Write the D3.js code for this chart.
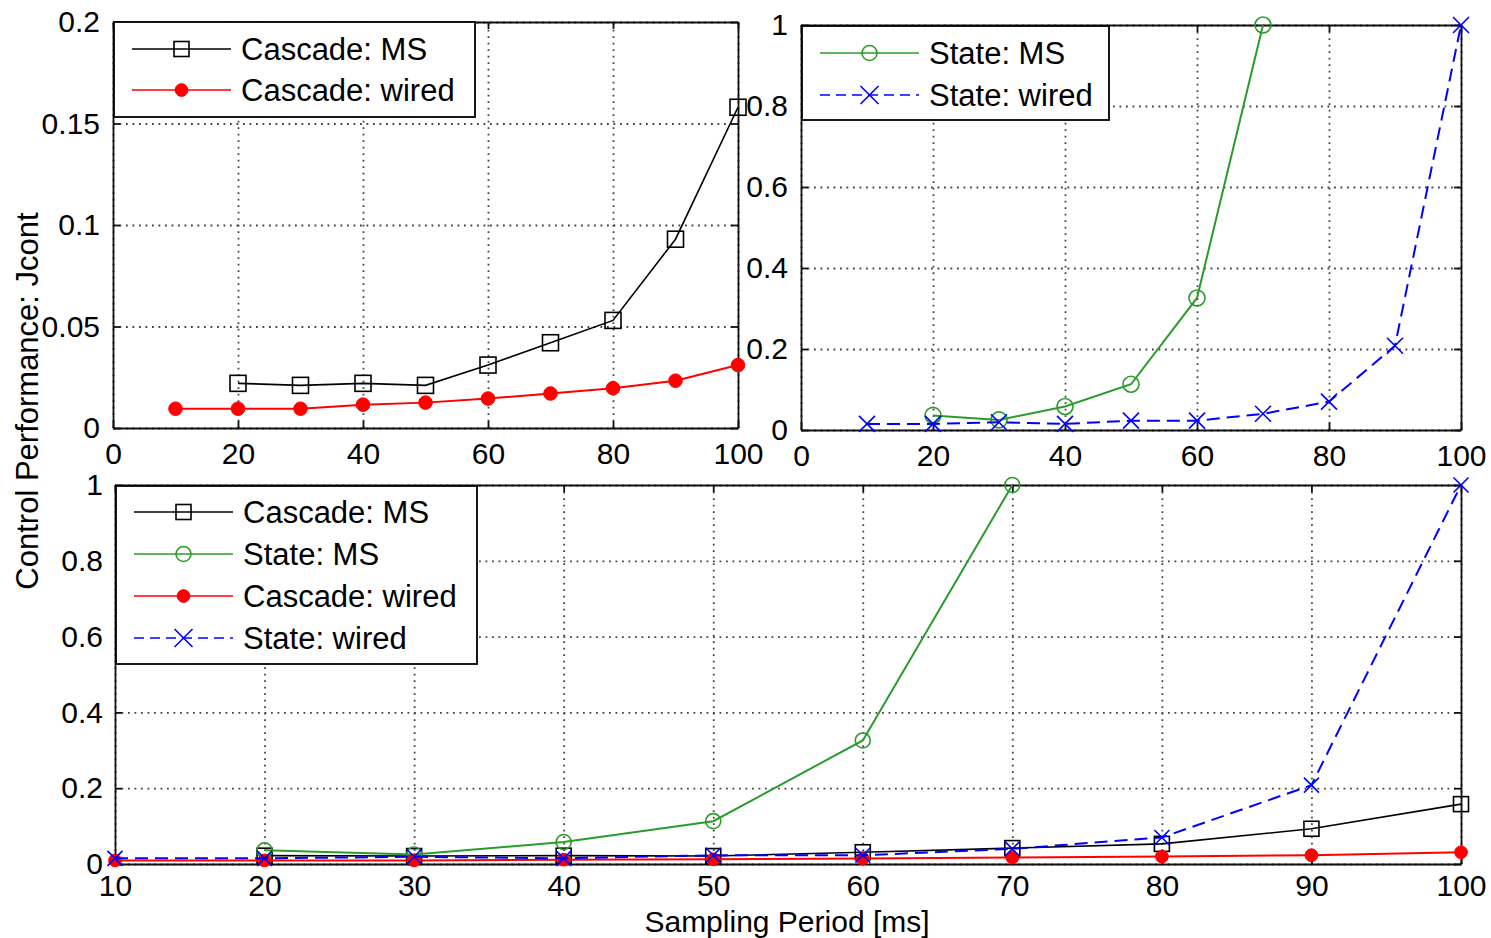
<!DOCTYPE html>
<html>
<head>
<meta charset="utf-8">
<script src="https://cdn.jsdelivr.net/npm/d3@7"></script>
<style>
  body { margin: 0; background: #fff; }
  text { font-family: "Liberation Sans", Arial, sans-serif; fill: #000; }
</style>
</head>
<body>
<svg width="1491" height="938"></svg>
<script>
// values
var periods = [10, 20, 30, 40, 50, 60, 70, 80, 90, 100];
var cascadeMS = [null, 0.022, 0.021, 0.022, 0.021, 0.031, 0.042, 0.053, 0.093, 0.158];
var cascadeWired = [0.0095, 0.0095, 0.0095, 0.0115, 0.0125, 0.0145, 0.017, 0.0196, 0.0233, 0.031];
var stateMS = [null, 0.036, 0.025, 0.058, 0.113, 0.326, 1.0, null, null, null];
var stateWired = [0.015, 0.015, 0.019, 0.015, 0.023, 0.023, 0.04, 0.07, 0.208, 1.0];

var xTicksTop = [0, 20, 40, 60, 80, 100];
var xTicksBottom = [10, 20, 30, 40, 50, 60, 70, 80, 90, 100];
var yTicksCascade = [0, 0.05, 0.1, 0.15, 0.2];
var yTicksState = [0, 0.2, 0.4, 0.6, 0.8, 1];

var seriesStyle = {
  cascadeMS:    { label: "Cascade: MS",    values: cascadeMS,    color: "#000",    marker: "square", dash: null,   lw: 1.6 },
  stateMS:      { label: "State: MS",      values: stateMS,      color: "#2b9b2b", marker: "circle", dash: null,   lw: 2 },
  cascadeWired: { label: "Cascade: wired", values: cascadeWired, color: "#ff0000", marker: "dot",    dash: null,   lw: 2 },
  stateWired:   { label: "State: wired",   values: stateWired,   color: "#0000ff", marker: "x",      dash: "13,7", lw: 2 }
};

var svg = d3.select("svg");

function drawMarker(g, type, cx, cy, s, color) {
  if (type == "square") {
    g.append("rect").attr("x", cx - s).attr("y", cy - s).attr("width", 2 * s).attr("height", 2 * s)
      .attr("fill", "none").attr("stroke", color).attr("stroke-width", 1.6);
  } else if (type == "circle") {
    g.append("circle").attr("cx", cx).attr("cy", cy).attr("r", s)
      .attr("fill", "none").attr("stroke", color).attr("stroke-width", 1.6);
  } else if (type == "dot") {
    g.append("circle").attr("cx", cx).attr("cy", cy).attr("r", s * 0.85)
      .attr("fill", color).attr("stroke", color).attr("stroke-width", 1);
  } else {
    g.append("path").attr("d", "M" + (cx - s) + "," + (cy - s) + "L" + (cx + s) + "," + (cy + s) +
        "M" + (cx - s) + "," + (cy + s) + "L" + (cx + s) + "," + (cy - s))
      .attr("fill", "none").attr("stroke", color).attr("stroke-width", 1.6);
  }
}

function panel(p) {
  var x = d3.scaleLinear().domain(p.xDomain).range([p.left, p.right]);
  var y = d3.scaleLinear().domain(p.yDomain).range([p.bottom, p.top]);
  var w = p.right - p.left, h = p.bottom - p.top;
  var g = svg.append("g");

  // dotted grid
  g.append("g").attr("transform", "translate(0," + p.bottom + ")")
    .call(d3.axisBottom(x).tickValues(p.xTicks).tickSize(-h).tickFormat(""))
    .call(function(a) { a.select(".domain").remove(); })
    .selectAll("line").attr("stroke", "#444").attr("stroke-width", 1.8).attr("stroke-dasharray", "1.8,4.7");
  g.append("g").attr("transform", "translate(" + p.left + ",0)")
    .call(d3.axisLeft(y).tickValues(p.yTicks).tickSize(-w).tickFormat(""))
    .call(function(a) { a.select(".domain").remove(); })
    .selectAll("line").attr("stroke", "#444").attr("stroke-width", 1.8).attr("stroke-dasharray", "1.8,4.7");

  // box with inward ticks
  var axes = [
    g.append("g").attr("transform", "translate(0," + p.bottom + ")")
      .call(d3.axisBottom(x).tickValues(p.xTicks).tickSize(-7).tickSizeOuter(0).tickPadding(p.xPad).tickFormat(function(d) { return d; })),
    g.append("g").attr("transform", "translate(0," + p.top + ")")
      .call(d3.axisTop(x).tickValues(p.xTicks).tickSize(-7).tickSizeOuter(0).tickFormat("")),
    g.append("g").attr("transform", "translate(" + p.left + ",0)")
      .call(d3.axisLeft(y).tickValues(p.yTicks).tickSize(-7).tickSizeOuter(0).tickPadding(p.yPad).tickFormat(function(d) { return d; })),
    g.append("g").attr("transform", "translate(" + p.right + ",0)")
      .call(d3.axisRight(y).tickValues(p.yTicks).tickSize(-7).tickSizeOuter(0).tickFormat(""))
  ];
  axes.forEach(function(a) {
    a.select(".domain").attr("stroke", "#111").attr("stroke-width", 1.8);
    a.selectAll("line").attr("stroke", "#111").attr("stroke-width", 1.8);
    a.selectAll("text").style("font-size", "30px").attr("fill", "#111");
  });

  // series
  p.series.forEach(function(key) {
    var s = seriesStyle[key];
    var pts = periods.map(function(t, i) { return { x: t, y: s.values[i] }; })
      .filter(function(d) { return d.y != null && d.x >= p.xDomain[0]; });
    g.append("path").datum(pts)
      .attr("fill", "none").attr("stroke", s.color).attr("stroke-width", s.lw)
      .attr("stroke-dasharray", s.dash)
      .attr("d", d3.line().x(function(d) { return x(d.x); }).y(function(d) { return y(d.y); }));
    pts.forEach(function(d) { drawMarker(g, s.marker, x(d.x), y(d.y), p.ms, s.color); });
  });

  // legend
  var L = p.legend;
  var lg = svg.append("g");
  lg.append("rect").attr("x", L.x0).attr("y", L.y0).attr("width", L.x1 - L.x0).attr("height", L.y1 - L.y0)
    .attr("fill", "#fff").attr("stroke", "#000").attr("stroke-width", 1.8);
  p.series.forEach(function(key, i) {
    var s = seriesStyle[key];
    var ry = L.rows[i];
    lg.append("line").attr("x1", L.lx0).attr("x2", L.lx1).attr("y1", ry).attr("y2", ry)
      .attr("stroke", s.color).attr("stroke-width", 1.6)
      .attr("stroke-dasharray", s.dash ? "10,6" : null);
    drawMarker(lg, s.marker, (L.lx0 + L.lx1) / 2, ry, s.marker == "x" ? 9 : 7.5, s.color);
    lg.append("text").attr("x", L.tx).attr("y", ry).attr("dy", "0.36em")
      .style("font-size", "31px").attr("fill", "#111").text(s.label);
  });
}

panel({
  left: 113, right: 738, top: 22, bottom: 428,
  xDomain: [0, 100], yDomain: [0, 0.2], xTicks: xTicksTop, yTicks: yTicksCascade,
  xPad: 15, yPad: 13, ms: 8,
  series: ["cascadeMS", "cascadeWired"],
  legend: { x0: 114, x1: 475, y0: 22, y1: 117, rows: [49, 90], lx0: 132, lx1: 231, tx: 241 }
});

panel({
  left: 801, right: 1461, top: 25, bottom: 430,
  xDomain: [0, 100], yDomain: [0, 1], xTicks: xTicksTop, yTicks: yTicksState,
  xPad: 15, yPad: 13, ms: 8,
  series: ["stateMS", "stateWired"],
  legend: { x0: 802, x1: 1109, y0: 26, y1: 120, rows: [53, 95], lx0: 820, lx1: 919, tx: 929 }
});

panel({
  left: 115, right: 1461, top: 485, bottom: 864,
  xDomain: [10, 100], yDomain: [0, 1], xTicks: xTicksBottom, yTicks: yTicksState,
  xPad: 11, yPad: 12, ms: 7.5,
  series: ["cascadeMS", "stateMS", "cascadeWired", "stateWired"],
  legend: { x0: 116, x1: 477, y0: 486, y1: 664, rows: [512, 554, 596, 638], lx0: 134, lx1: 233, tx: 243 }
});

// axis titles
svg.append("text")
  .attr("text-anchor", "middle")
  .attr("transform", "translate(38,401) rotate(-90)")
  .style("font-size", "31px").attr("fill", "#111")
  .text("Control Performance: Jcont");

svg.append("text")
  .attr("text-anchor", "middle")
  .attr("x", 787).attr("y", 932)
  .style("font-size", "30px").attr("fill", "#111")
  .text("Sampling Period [ms]");
</script>
</body>
</html>
